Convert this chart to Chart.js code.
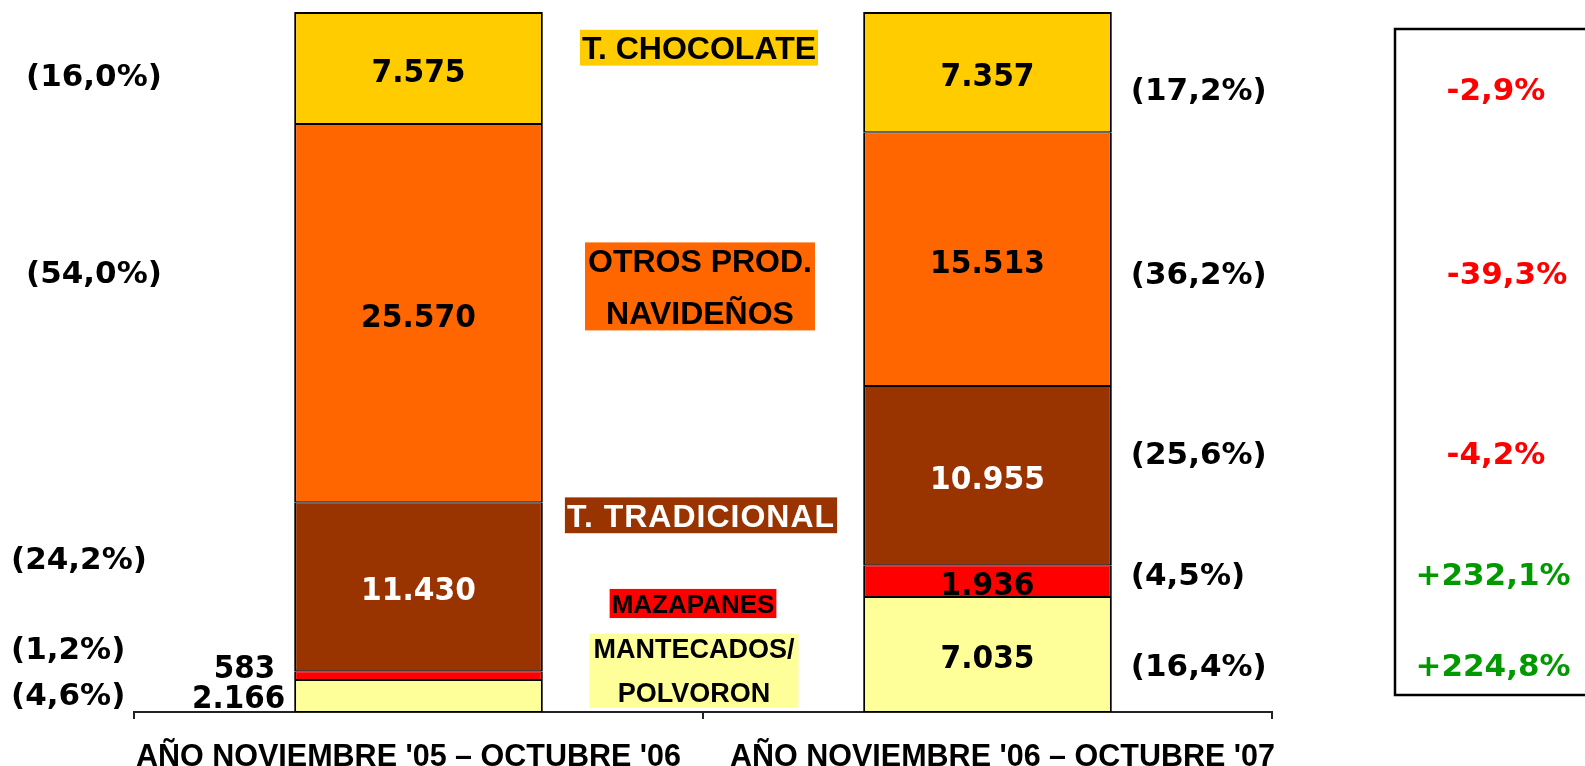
<!DOCTYPE html>
<html>
<head>
<meta charset="utf-8">
<script src="https://cdn.jsdelivr.net/npm/chart.js@4.4.1/dist/chart.umd.min.js"></script>
<style>
  html, body { margin: 0; padding: 0; background: #fff; }
  #caixa { width: 1585px; height: 766px; position: relative; }
</style>
</head>
<body>
<div id="caixa"><canvas id="graficoTurron"></canvas></div>
<script>
// Periodos (categorias do eixo x)
const periodos = ["AÑO NOVIEMBRE '05 – OCTUBRE '06", "AÑO NOVIEMBRE '06 – OCTUBRE '07"];

// Produtos, de baixo para cima na pilha
const productos = ['MANTECADOS/ POLVORON', 'MAZAPANES', 'T. TRADICIONAL', 'OTROS PROD. NAVIDEÑOS', 'T. CHOCOLATE'];
const mantecados = [2166, 7035];
const mazapanes = [583, 1936];
const tradicional = [11430, 10955];
const otrosProd = [25570, 15513];
const chocolate = [7575, 7357];

const coresProdutos = ['#FFFF99', '#FF0000', '#993300', '#FF6600', '#FFCC00'];

const series = [mantecados, mazapanes, tradicional, otrosProd, chocolate];
const totais = periodos.map((_, i) => series.reduce((s, d) => s + d[i], 0));
const participacao = series.map(d => d.map((v, i) => v / totais[i] * 100));

// 7575 -> "7.575"
function formatarNumero(v) {
    return String(v).replace(/\B(?=(\d{3})+(?!\d))/g, '.');
}
function formatarPct(v) {
    return v.toFixed(1).replace('.', ',');
}

// desenha texto com centro vertical em y; sx comprime na horizontal
function texto(ctx, str, x, y, o) {
    ctx.save();
    ctx.font = o.font;
    if (o.spacing) ctx.letterSpacing = o.spacing;
    ctx.fillStyle = o.cor || '#000';
    ctx.textBaseline = 'alphabetic';
    ctx.textAlign = 'left';
    const sx = o.sx || 1;
    const w = ctx.measureText(str).width * sx;
    let esq = x;
    if (o.align === 'center') esq = x - w / 2;
    else if (o.align === 'right') esq = x - w;
    ctx.translate(esq, y + o.size * 0.36);
    ctx.scale(sx, 1);
    ctx.fillText(str, 0, 0);
    ctx.restore();
    return w;
}

const fonteNum = 'bold 32px "DejaVu Sans"';
const fontePct = 'bold 31px "DejaVu Sans"';

const pluginRotulos = {
    id: 'rotulos',
    afterDatasetsDraw(chart) {
        const ctx = chart.ctx;
        const ys = chart.scales.y;
        const xs = chart.scales.x;

        // valores dentro das barras
        const foraDaBarra = { '0-0': { dx: -9, dy: 0 }, '1-0': { dx: -19, dy: -9 } };
        series.forEach((dados, k) => {
            const meta = chart.getDatasetMeta(k);
            meta.data.forEach((bar, i) => {
                const centro = (bar.y + bar.base) / 2;
                const fora = foraDaBarra[k + '-' + i];
                if (fora) {
                    texto(ctx, formatarNumero(dados[i]), bar.x - bar.width / 2 + fora.dx, centro + fora.dy,
                        { font: fonteNum, size: 32, sx: 0.92, align: 'right' });
                } else {
                    texto(ctx, formatarNumero(dados[i]), bar.x, centro + 2,
                        { font: fonteNum, size: 32, sx: 0.93, align: 'center', cor: k === 2 ? '#fff' : '#000' });
                }
            });
        });

        // percentagens à esquerda (1o periodo)
        const yEsq = [2.6, 9.1, 22.0, 62.9, 91.0];
        const xEsq = [11, 11, 11, 26, 26];
        participacao.forEach((p, k) => {
            texto(ctx, '(' + formatarPct(p[0]) + '%)', xEsq[k], ys.getPixelForValue(yEsq[k]),
                { font: fontePct, size: 31, align: 'left' });
        });

        // percentagens à direita (2o periodo) e variação
        const bar2 = chart.getDatasetMeta(0).data[1];
        const xDir = bar2.x + bar2.width / 2 + 19;
        const yDir = [6.7, 19.7, 37.0, 62.7, 89.0];
        const xVar = [1493, 1493, 1496, 1507, 1496];
        participacao.forEach((p, k) => {
            const y = ys.getPixelForValue(yDir[k]);
            texto(ctx, '(' + formatarPct(p[1]) + '%)', xDir, y, { font: fontePct, size: 31, align: 'left' });
            const variacao = (series[k][1] / series[k][0] - 1) * 100;
            const txt = (variacao > 0 ? '+' : '-') + formatarPct(Math.abs(variacao)) + '%';
            texto(ctx, txt, xVar[k], y, { font: fontePct, size: 31, align: 'center', cor: variacao > 0 ? '#009900' : '#FF0000' });
        });

        // caixa das variações
        ctx.save();
        ctx.strokeStyle = '#000';
        ctx.lineWidth = 2.5;
        ctx.strokeRect(1395, 29, 200, 666);
        ctx.restore();

        // rótulos do eixo x
        const desvioPeriodo = [-10, 15];
        periodos.forEach((p, i) => {
            texto(ctx, p, xs.getPixelForValue(i) + desvioPeriodo[i], 755,
                { font: 'bold 30.5px "Liberation Sans", Arial, sans-serif', size: 30.5, align: 'center' });
        });

        // legendas no meio
        const meio = (xs.getPixelForValue(0) + xs.getPixelForValue(1)) / 2;
        const linhasLegenda = [['MANTECADOS/', 'POLVORON'], ['MAZAPANES'], ['T. TRADICIONAL'], ['OTROS PROD.', 'NAVIDEÑOS'], ['T. CHOCOLATE']];
        const posLegenda = [
            { y: 5.9, dx: -9, size: 27, pad: 4 },
            { y: 15.5, dx: -10, size: 26, pad: 2 },
            { y: 28.1, dx: -2, size: 32, pad: 2, spacing: '1px' },
            { y: 60.8, dx: -3, size: 32, pad: 3 },
            { y: 94.9, dx: -4, size: 32, pad: 2 }
        ];
        linhasLegenda.forEach((linhas, k) => {
            const p = posLegenda[k];
            const font = 'bold ' + p.size + 'px "Liberation Sans", Arial, sans-serif';
            ctx.save();
            ctx.font = font;
            if (p.spacing) ctx.letterSpacing = p.spacing;
            const largura = Math.max(...linhas.map(l => ctx.measureText(l).width));
            ctx.restore();
            const gap = p.size * 1.63;
            const cx = meio + p.dx;
            const cy = ys.getPixelForValue(p.y);
            const altura = (linhas.length - 1) * gap + p.size * 1.12;
            ctx.fillStyle = coresProdutos[k];
            ctx.fillRect(cx - largura / 2 - p.pad, cy - altura / 2, largura + 2 * p.pad, altura);
            linhas.forEach((l, j) => {
                const ly = cy - (linhas.length - 1) * gap / 2 + j * gap;
                texto(ctx, l, cx, ly, { font: font, size: p.size, align: 'center', spacing: p.spacing, cor: k === 2 ? '#fff' : '#000' });
            });
        });
    }
};

function criarGrafico() {
    const ctx = document.getElementById('graficoTurron').getContext('2d');
    new Chart(ctx, {
        type: 'bar',
        data: {
            labels: periodos,
            datasets: productos.map((nome, k) => ({
                label: nome,
                data: participacao[k],
                backgroundColor: coresProdutos[k],
                borderColor: '#000',
                borderWidth: { left: 2, right: 2, bottom: 1, top: k === 4 ? 2 : 1 },
                borderSkipped: false,
                categoryPercentage: 1,
                barPercentage: 0.437
            }))
        },
        options: {
            responsive: true,
            maintainAspectRatio: false,
            animation: false,
            layout: { padding: { left: 134, right: 313, top: 12, bottom: 0 } },
            plugins: { legend: { display: false }, tooltip: { enabled: false } },
            scales: {
                x: {
                    stacked: true,
                    afterFit: s => { s.height = 54; },
                    border: { display: true, color: '#222', width: 2 },
                    grid: { offset: true, drawOnChartArea: false, drawTicks: true, tickLength: 7, color: '#222', lineWidth: 2 },
                    ticks: { display: false }
                },
                y: { stacked: true, display: false, min: 0, max: 100 }
            }
        },
        plugins: [pluginRotulos]
    });
}

window.addEventListener('DOMContentLoaded', criarGrafico);
</script>
</body>
</html>
